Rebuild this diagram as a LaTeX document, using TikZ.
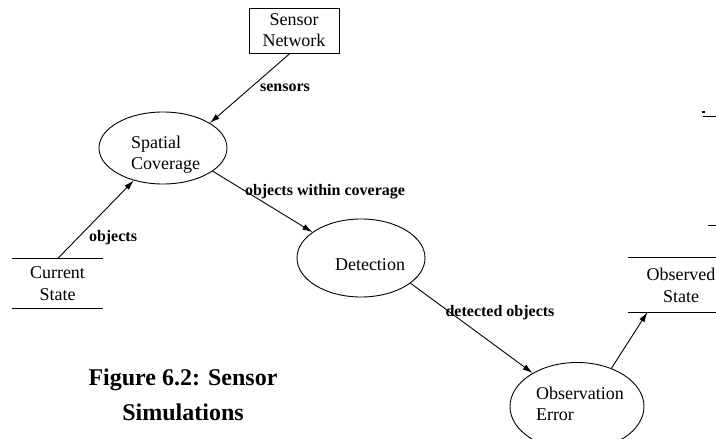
\documentclass[tikz,border=0pt]{standalone}
\usepackage{fontspec}
\setmainfont{Liberation Serif}
\usetikzlibrary{shapes.geometric,arrows.meta}
\begin{document}
\begin{tikzpicture}[x=1pt,y=-1pt,
  nodefont/.style={font=\fontsize{18}{21}\selectfont},
  proc/.style={ellipse,draw,line width=0.9pt,inner sep=0pt},
  proctext/.style={nodefont,align=left,inner sep=0pt},
  ext/.style={rectangle,draw,line width=0.9pt,inner sep=0pt,nodefont,align=center},
  store/.style={rectangle,inner sep=0pt,font=\fontsize{18}{22}\selectfont,align=center},
  storeline/.style={line width=0.9pt},
  flow/.style={-{Latex[length=10pt,width=6pt]},line width=0.9pt},
  lbl/.style={font=\bfseries\fontsize{16}{18}\selectfont,inner sep=0pt},
  figcaption/.style={font=\bfseries\fontsize{24}{35}\selectfont,align=center,inner sep=0pt}]
\useasboundingbox (0,0) rectangle (716,439);
\clip (0,0) rectangle (716,439);
\fill[white] (0,0) rectangle (716,439);

\node[ext,minimum width=90pt,minimum height=45pt] (sn) at (294,30.5) {Sensor\\Network};
\node[proc,minimum width=128pt,minimum height=72pt,
  label={[proctext,shift={(2.5pt,-7pt)}]center:Spatial\\Coverage}] (sc) at (163,148) {};
\node[proc,minimum width=128pt,minimum height=78pt,
  label={[proctext,shift={(9pt,-7pt)}]center:Detection}] (det) at (361,258) {};
\node[proc,minimum width=134pt,minimum height=88pt,
  label={[proctext,shift={(3pt,3pt)}]center:Observation\\Error}] (oe) at (577,406.5) {};
\node[store,minimum width=91pt,minimum height=49pt] (cs) at (57.5,283.5) {Current\\State};
\node[store,minimum width=106pt,minimum height=54pt] (os) at (681,285) {Observed\\State};

\draw[storeline] (cs.north west) -- (cs.north east);
\draw[storeline] (cs.south west) -- (cs.south east);
\draw[storeline] (os.north west) -- (os.north east);
\draw[storeline] (os.south west) -- (os.south east);

\draw[flow] (sn.-100) -- (sc.28);
\draw[flow] (cs.north) -- (sc.-132);
\draw[flow] (sc.-25) -- (det.152);
\draw[flow] (det.-27) -- (oe.143);
\draw[flow] (oe.48) -- (os.-141);

\node[lbl] (l1) at (285,88) {sensors};
\node[lbl] (l2) at (113,238) {objects};
\node[lbl] (l3) at (325,192) {objects within coverage};
\node[lbl] (l4) at (500,313) {detected objects};

\node[figcaption] (fig) at (183,394.5) {Figure 6.2: Sensor\\Simulations};

\draw[line width=0.8pt] (703,116) -- (716,116);
\fill (702,111) rectangle (705,113);
\draw[line width=0.8pt] (708,225) -- (716,225);
\end{tikzpicture}
\end{document}
